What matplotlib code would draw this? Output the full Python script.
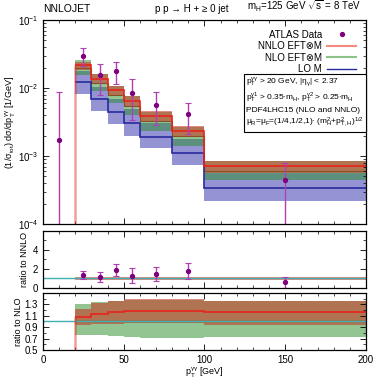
import numpy as np
import matplotlib
matplotlib.use("Agg")
import matplotlib.pyplot as plt
from matplotlib.lines import Line2D
from matplotlib.ticker import MultipleLocator, LogLocator, NullFormatter

plt.rcParams['font.family'] = ['Liberation Sans', 'DejaVu Sans']
plt.rcParams['mathtext.fontset'] = 'custom'
plt.rcParams['mathtext.rm'] = 'Liberation Sans'
plt.rcParams['mathtext.it'] = 'Liberation Sans'
plt.rcParams['mathtext.default'] = 'regular'
plt.rcParams['font.size'] = 7

# bins in pT(gamma gamma) [GeV]
edges = [20, 30, 40, 50, 60, 80, 100, 200]

# NLO central value and scale band (as ratio to NLO)
nlo = [0.0199, 0.0120, 0.0080, 0.00549, 0.00328, 0.00195, 0.000612]
nlo_lo_r = [0.77, 0.76, 0.74, 0.72, 0.71, 0.71, 0.72]
nlo_hi_r = [1.31, 1.34, 1.36, 1.37, 1.37, 1.37, 1.36]

# NNLO as ratio to NLO
nnlo_r = [1.08, 1.14, 1.16, 1.19, 1.19, 1.19, 1.16]
nnlo_lo_r = [0.93, 0.95, 0.96, 0.97, 0.97, 0.97, 0.93]
nnlo_hi_r = [1.22, 1.32, 1.36, 1.40, 1.40, 1.40, 1.36]

# LO
lo = [0.0121, 0.0069, 0.0045, 0.0031, 0.0019, 0.00112, 0.00034]
lo_lo = [0.00817, 0.00457, 0.00297, 0.0020, 0.0013, 0.00073, 0.00022]
lo_hi = [0.0180, 0.0105, 0.0070, 0.0049, 0.0031, 0.0018, 0.00056]

# ATLAS data
x_data = [10, 25, 35, 45, 55, 70, 90, 150]
data = [0.0017, 0.0298, 0.0153, 0.0176, 0.00856, 0.0057, 0.0041, 0.00044]
data_hi = [0.0087, 0.0386, 0.0224, 0.0238, 0.0137, 0.00865, 0.0060, 0.00080]
data_lo = [1e-5, 0.021, 0.0080, 0.0116, 0.00336, 0.0029, 0.0021, 1e-5]

edges = np.array(edges, float)
nlo = np.array(nlo)
nlo_lo = nlo * np.array(nlo_lo_r)
nlo_hi = nlo * np.array(nlo_hi_r)
nnlo = nlo * np.array(nnlo_r)
nnlo_lo = nlo * np.array(nnlo_lo_r)
nnlo_hi = nlo * np.array(nnlo_hi_r)
x_data = np.array(x_data, float)
data = np.array(data)
data_hi = np.array(data_hi)
data_lo = np.array(data_lo)

c_red_band = (200/255, 50/255, 30/255)
c_green_band = (40/255, 140/255, 40/255)
c_blue_band = (60/255, 60/255, 180/255)
c_red = '#e8241c'
c_green = '#3f6f2f'
c_blue = '#2a2aa0'
c_teal = '#40b0b0'
c_pt = '#7f007f'
c_err = '#b040b0'

fig = plt.figure(figsize=(3.82, 3.82), dpi=100)
L, W = 0.1126, 0.8454
ax1 = fig.add_axes([L, 0.4136, W, 0.5340])
ax2 = fig.add_axes([L, 0.2461, W, 0.1492])
ax3 = fig.add_axes([L, 0.0838, W, 0.1492])

# ---- main panel
ax1.set_yscale('log')
ax1.stairs(lo_hi, edges, baseline=lo_lo, fill=True, color=c_blue_band, alpha=0.55, lw=0)
ax1.stairs(nlo_hi, edges, baseline=nlo_lo, fill=True, color=c_green_band, alpha=0.5, lw=0)
ax1.stairs(nlo, edges, baseline=None, color=c_green, lw=0.8)
ax1.stairs(nnlo_hi, edges, baseline=nnlo_lo, fill=True, color=c_red_band, alpha=0.55, lw=0)
ax1.stairs(lo, edges, baseline=None, color=c_blue, lw=1.2)
ax1.stairs(nnlo, edges, baseline=None, color=c_red, lw=1.2)
ax1.vlines(edges[0], 1e-4, nnlo[0], color=c_red, alpha=0.45, lw=1.8)
ax1.errorbar(x_data, data, yerr=[data - data_lo, data_hi - data], fmt='o', ms=2.8,
             color=c_pt, ecolor=c_err, elinewidth=1.0, capsize=2, capthick=0.8)
ax1.set_xlim(0, 200)
ax1.set_ylim(1e-4, 1e-1)
ax1.set_ylabel(r'(1/$\sigma_{tot}$) d$\sigma$/d$p_T^{\gamma\gamma}$ [1/GeV]', labelpad=0,
               fontsize=6.5)
ax1.yaxis.set_minor_locator(LogLocator(subs=np.arange(2, 10)))
ax1.yaxis.set_minor_formatter(NullFormatter())
ax1.tick_params(labelbottom=False)

handles = [
    Line2D([], [], marker='o', ms=2.8, color=c_pt, ls='none'),
    Line2D([], [], color='#f48a80', lw=1.5),
    Line2D([], [], color='#8cc48c', lw=1.5),
    Line2D([], [], color=c_blue, lw=1.0),
]
labels = ['ATLAS Data', 'NNLO EFT\u2297M', 'NLO EFT\u2297M', 'LO M']
ax1.legend(handles, labels, loc='upper right', frameon=False, markerfirst=False,
           handlelength=3.0, handletextpad=0.5, labelspacing=0.15, fontsize=7,
           borderaxespad=0.6)

info = ('$p_T^{\\gamma\\gamma}$ > 20 GeV, |$\\eta_\\gamma$| < 2.37\n'
        '$p_T^{\\gamma 1}$ > 0.35$\\cdot$$m_H$, $p_T^{\\gamma 2}$ > 0.25$\\cdot$$m_H$\n'
        'PDF4LHC15 (NLO and NNLO)\n'
        '$\\mu_R$=$\\mu_F$=(1/4,1/2,1)$\\cdot$ ($m_H^2$+$p_{T,H}^2$)$^{1/2}$')
ax1.text(0.628, 0.728, info, transform=ax1.transAxes, ha='left', va='top', fontsize=6,
         linespacing=1.25,
         bbox=dict(boxstyle='square,pad=0.25', fc='white', ec='black', lw=0.8))

ax1.text(0.0, 1.03, 'NNLOJET', transform=ax1.transAxes, ha='left', va='bottom', fontsize=7.5)
ax1.text(0.46, 1.03, 'p p \u2192 H + \u2265 0 jet', transform=ax1.transAxes, ha='center',
         va='bottom', fontsize=7)
ax1.text(0.985, 1.03, '$m_H$=125 GeV $\\sqrt{s}$ = 8 TeV', transform=ax1.transAxes,
         ha='right', va='bottom', fontsize=7)

# ---- ratio to NNLO
ax2.axhline(1.0, color=c_teal, lw=1.0)
ax2.stairs(nnlo_hi / nnlo, edges, baseline=nnlo_lo / nnlo, fill=True, color=c_red_band,
           alpha=0.55, lw=0)
ax2.stairs(np.ones_like(nnlo), edges, baseline=None, color=c_red, lw=0.8, alpha=0.6)
m = x_data >= edges[0]
idx = np.searchsorted(edges, x_data[m], side='right') - 1
den = nnlo[idx]
ax2.errorbar(x_data[m], data[m] / den,
             yerr=[(data[m] - data_lo[m]) / den, (data_hi[m] - data[m]) / den],
             fmt='o', ms=2.8, color=c_pt, ecolor=c_err, elinewidth=1.0, capsize=2,
             capthick=0.8)
ax2.set_xlim(0, 200)
ax2.set_ylim(0, 6)
ax2.set_yticks([0, 2, 4])
ax2.yaxis.set_minor_locator(MultipleLocator(1))
ax2.set_ylabel('ratio to NNLO', labelpad=3, fontsize=6.5)
ax2.tick_params(labelbottom=False)

# ---- ratio to NLO
ax3.axhline(1.0, color=c_teal, lw=1.0)
ax3.stairs(np.array(nlo_hi_r), edges, baseline=np.array(nlo_lo_r), fill=True,
           color=c_green_band, alpha=0.5, lw=0)
ax3.stairs(np.ones_like(nlo), edges, baseline=None, color=c_green, lw=1.0)
ax3.stairs(np.array(nnlo_hi_r), edges, baseline=np.array(nnlo_lo_r), fill=True,
           color=c_red_band, alpha=0.55, lw=0)
ax3.stairs(np.array(nnlo_r), edges, baseline=None, color=c_red, lw=1.2)
ax3.vlines(edges[0], 0.5, nnlo_r[0], color=c_red, alpha=0.45, lw=1.8)
ax3.set_xlim(0, 200)
ax3.set_ylim(0.5, 1.5)
ax3.set_yticks([0.5, 0.7, 0.9, 1.1, 1.3])
ax3.yaxis.set_minor_locator(MultipleLocator(0.1))
ax3.set_ylabel('ratio to NLO', labelpad=1, fontsize=6.5)
ax3.set_xlabel('$p_T^{\\gamma\\gamma}$ [GeV]', labelpad=1, fontsize=6.5)

for ax in (ax1, ax2, ax3):
    ax.xaxis.set_major_locator(MultipleLocator(50))
    ax.xaxis.set_minor_locator(MultipleLocator(10))
    ax.tick_params(which='both', direction='in', top=True, right=True, labelsize=7)
    ax.tick_params(which='major', length=4, width=0.6)
    ax.tick_params(which='minor', length=2, width=0.5)
    for s in ax.spines.values():
        s.set_linewidth(0.9)

fig.savefig('out.png', dpi=100)
